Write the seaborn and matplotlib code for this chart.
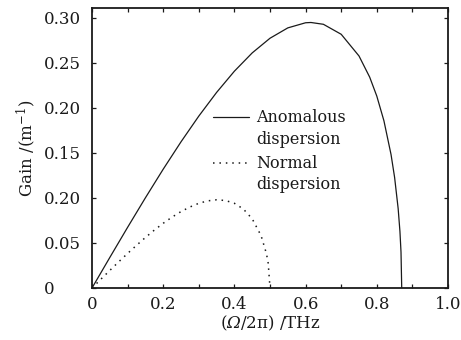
import matplotlib
matplotlib.use("Agg")
import matplotlib.pyplot as plt
import seaborn as sns
import pandas as pd

# Anomalous dispersion gain curve
anom_x = [0, 0.05, 0.10, 0.15, 0.20, 0.25, 0.30, 0.35, 0.40, 0.45, 0.50, 0.55,
          0.60, 0.615, 0.65, 0.70, 0.75, 0.78, 0.80, 0.82, 0.84, 0.85, 0.86,
          0.865, 0.868, 0.87]
anom_y = [0, 0.0339, 0.0674, 0.1002, 0.1320, 0.1624, 0.1910, 0.2173, 0.2409,
          0.2612, 0.2775, 0.2890, 0.2947, 0.2950, 0.2930, 0.2819, 0.2578,
          0.2343, 0.2132, 0.1858, 0.1483, 0.1229, 0.0882, 0.0628, 0.0399, 0]

# Normal dispersion gain curve
norm_x = [0, 0.025, 0.05, 0.075, 0.10, 0.125, 0.15, 0.175, 0.20, 0.225, 0.25,
          0.275, 0.30, 0.325, 0.35, 0.375, 0.40, 0.425, 0.45, 0.475, 0.49,
          0.495, 0.5]
norm_y = [0, 0.0098, 0.0195, 0.0291, 0.0384, 0.0474, 0.0561, 0.0643, 0.0719,
          0.0788, 0.0849, 0.0900, 0.0941, 0.0968, 0.0980, 0.0972, 0.0941,
          0.0878, 0.0769, 0.0581, 0.0382, 0.0274, 0]

x_ticks = [0, 0.2, 0.4, 0.6, 0.8, 1.0]
x_ticklabels = ["0", "0.2", "0.4", "0.6", "0.8", "1.0"]
y_ticks = [0, 0.05, 0.10, 0.15, 0.20, 0.25, 0.30]
y_ticklabels = ["0", "0.05", "0.20", "0.15", "0.20", "0.25", "0.30"]

labels_first = ["Anomalous", "Normal"]
labels_second = ["dispersion", "dispersion"]

sns.set_theme(style="ticks")
plt.rcParams["font.family"] = ["DejaVu Serif"]
plt.rcParams["mathtext.fontset"] = "custom"
plt.rcParams["mathtext.rm"] = "DejaVu Serif"
plt.rcParams["mathtext.it"] = "DejaVu Serif:italic"
plt.rcParams["mathtext.sf"] = "DejaVu Serif:italic"

ink = "#1a1a1a"
fig = plt.figure(figsize=(4.61, 3.40), dpi=100)
ax = fig.add_axes([92 / 461, 1 - 288 / 340, 356 / 461, 280 / 340])

df_a = pd.DataFrame({"x": anom_x, "y": anom_y})
df_n = pd.DataFrame({"x": norm_x, "y": norm_y})
sns.lineplot(data=df_a, x="x", y="y", ax=ax, color=ink, lw=0.9,
             label=labels_first[0], sort=False)
sns.lineplot(data=df_n, x="x", y="y", ax=ax, color=ink, lw=1.1,
             linestyle=(0, (1, 3.2)), label=labels_first[1], sort=False)

ax.set_xlim(0, 1.0)
ax.set_ylim(0, 0.3111)
ax.set_xticks(x_ticks)
ax.set_xticklabels(x_ticklabels)
ax.set_xticks([0.1, 0.3, 0.5, 0.7, 0.9], minor=True)
ax.set_yticks(y_ticks)
ax.set_yticklabels(y_ticklabels)

for s in ax.spines.values():
    s.set_linewidth(1.3)
    s.set_color(ink)
    s.set_visible(True)

ax.tick_params(which="both", direction="in", length=3, width=0.9,
               top=True, right=True, colors=ink, labelsize=12)
ax.tick_params(axis="x", pad=6)
ax.tick_params(axis="y", pad=35)
for t in ax.get_yticklabels():
    t.set_horizontalalignment("left")

ax.set_xlabel(r"($\mathsf{\Omega}$/2π) /THz", fontsize=12, labelpad=0, color=ink)
ax.set_ylabel(r"Gain /(m$^{-1}$)", fontsize=12, labelpad=4, color=ink)

leg = ax.legend(loc="upper left", bbox_to_anchor=(0.34, 0.638), frameon=False,
                fontsize=11.5, handlelength=2.25, handletextpad=0.45,
                labelspacing=1.8, borderpad=0, borderaxespad=0)
leg.set_zorder(5)
fig.canvas.draw()
for txt, second in zip(leg.get_texts(), labels_second):
    txt.set_color(ink)
    ax.annotate(second, xy=(0, 0), xycoords=txt, xytext=(0, -3),
                textcoords="offset points", ha="left", va="top",
                fontsize=11.5, color=ink, zorder=10)

fig.savefig("out.png", dpi=100)
